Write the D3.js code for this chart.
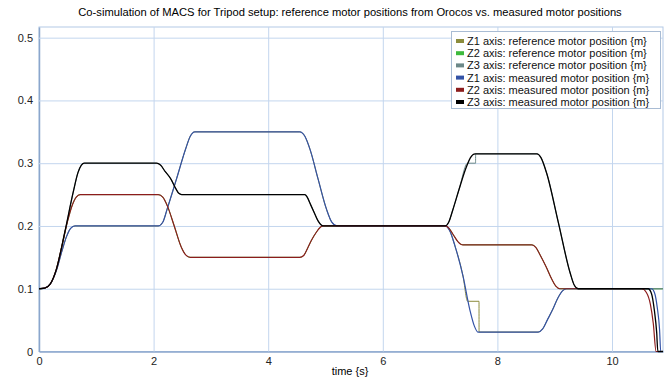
<!DOCTYPE html>
<html lang="en">
  <head>
    <meta charset="utf-8" />
    <title>Co-simulation of MACS for Tripod setup</title>
    <script src="https://d3js.org/d3.v7.min.js"></script>
    <style>
      body {
        margin: 0;
        background: #fff;
        font-family: "Liberation Sans", Arial, sans-serif;
      }

      .axis text {
        font-size: 11px;
        fill: #222;
      }

      .grid line {
        stroke: #c3d6ee;
        stroke-width: 1;
      }

      .axis path.domain {
        stroke: #8ba6cc;
        stroke-width: 1.5;
      }

      .legend text {
        font-size: 11px;
        fill: #111;
      }
    </style>
  </head>

  <body>
    <svg id="chart"></svg>

    <script>
      // tick labels
      const xTicks = [0, 2, 4, 6, 8, 10];
      const yTicks = [0, 0.1, 0.2, 0.3, 0.4, 0.5];

      const seriesNames = [
        "Z1 axis: reference motor position {m}",
        "Z2 axis: reference motor position {m}",
        "Z3 axis: reference motor position {m}",
        "Z1 axis: measured motor position {m}",
        "Z2 axis: measured motor position {m}",
        "Z3 axis: measured motor position {m}",
      ];

      // [time {s}, position {m}]
      const z1Meas = [
        [0, 0.1], [0.1, 0.101], [0.2, 0.108], [0.3, 0.128], [0.4, 0.16], [0.48, 0.183], [0.55, 0.196], [0.63, 0.2],
        [2.08, 0.2], [2.16, 0.206], [2.24, 0.228], [2.4, 0.275], [2.56, 0.323], [2.64, 0.343], [2.72, 0.35],
        [4.55, 0.35], [4.64, 0.343], [4.73, 0.322], [4.87, 0.275], [5.02, 0.226], [5.11, 0.206], [5.2, 0.2],
        [7.09, 0.2], [7.17, 0.192], [7.26, 0.168], [7.4, 0.12], [7.52, 0.066], [7.6, 0.04], [7.66, 0.031],
        [8.71, 0.031], [8.79, 0.036], [8.87, 0.05], [8.96, 0.066], [9.06, 0.086], [9.14, 0.097], [9.21, 0.1],
        [10.69, 0.1], [10.74, 0.094], [10.79, 0.07], [10.83, 0.035], [10.85, 0], [10.89, 0],
      ];

      const z2Meas = [
        [0, 0.1], [0.1, 0.101], [0.2, 0.108], [0.3, 0.13], [0.4, 0.168], [0.5, 0.208], [0.58, 0.233], [0.65, 0.246], [0.72, 0.25],
        [2.08, 0.25], [2.16, 0.246], [2.24, 0.232], [2.36, 0.2], [2.48, 0.167], [2.56, 0.154], [2.64, 0.15],
        [4.55, 0.15], [4.62, 0.153], [4.69, 0.165], [4.76, 0.178], [4.84, 0.19], [4.91, 0.198], [4.96, 0.2],
        [7.09, 0.2], [7.15, 0.197], [7.23, 0.186], [7.31, 0.175], [7.36, 0.171], [7.4, 0.17],
        [8.6, 0.17], [8.67, 0.166], [8.75, 0.153], [8.85, 0.135], [8.95, 0.115], [9.02, 0.104], [9.09, 0.1],
        [10.52, 0.1], [10.6, 0.094], [10.67, 0.075], [10.72, 0.045], [10.77, 0], [10.89, 0],
      ];

      const z3Meas = [
        [0, 0.1], [0.1, 0.101], [0.2, 0.108], [0.3, 0.13], [0.45, 0.19], [0.6, 0.255], [0.68, 0.285], [0.74, 0.297], [0.79, 0.3],
        [2.05, 0.3], [2.12, 0.297], [2.2, 0.287], [2.3, 0.275], [2.39, 0.259], [2.44, 0.252], [2.49, 0.25],
        [4.64, 0.25], [4.68, 0.246], [4.74, 0.234], [4.8, 0.222], [4.87, 0.208], [4.92, 0.202], [4.96, 0.2],
        [7.09, 0.2], [7.15, 0.206], [7.22, 0.225], [7.33, 0.258], [7.45, 0.292], [7.53, 0.309], [7.61, 0.315],
        [8.69, 0.315], [8.76, 0.309], [8.86, 0.284], [9.06, 0.207], [9.27, 0.125], [9.34, 0.106], [9.41, 0.1],
        [10.63, 0.1], [10.69, 0.092], [10.74, 0.065], [10.78, 0.03], [10.8, 0], [10.89, 0],
      ];

      // references follow the measured curves except where they hold a sample
      const z1Ref = [
        [0, 0.1], [0.1, 0.101], [0.2, 0.108], [0.3, 0.128], [0.4, 0.16], [0.48, 0.183], [0.55, 0.196], [0.63, 0.2],
        [2.08, 0.2], [2.16, 0.206], [2.24, 0.228], [2.4, 0.275], [2.56, 0.323], [2.64, 0.343], [2.72, 0.35],
        [4.55, 0.35], [4.64, 0.343], [4.73, 0.322], [4.87, 0.275], [5.02, 0.226], [5.11, 0.206], [5.2, 0.2],
        [7.09, 0.2], [7.17, 0.192], [7.26, 0.168], [7.4, 0.12], [7.48, 0.08], [7.679, 0.08], [7.68, 0.031],
        [8.71, 0.031], [8.79, 0.036], [8.87, 0.05], [8.96, 0.066], [9.06, 0.086], [9.14, 0.097], [9.21, 0.1],
        [10.89, 0.1],
      ];

      const z2Ref = [
        [0, 0.1], [0.1, 0.101], [0.2, 0.108], [0.3, 0.13], [0.4, 0.168], [0.5, 0.208], [0.58, 0.233], [0.65, 0.246], [0.72, 0.25],
        [2.08, 0.25], [2.16, 0.246], [2.24, 0.232], [2.36, 0.2], [2.48, 0.167], [2.56, 0.154], [2.64, 0.15],
        [4.55, 0.15], [4.62, 0.153], [4.69, 0.165], [4.76, 0.178], [4.84, 0.19], [4.91, 0.198], [4.96, 0.2],
        [7.09, 0.2], [7.15, 0.197], [7.23, 0.186], [7.31, 0.175], [7.36, 0.171], [7.4, 0.17],
        [8.6, 0.17], [8.67, 0.166], [8.75, 0.153], [8.85, 0.135], [8.95, 0.115], [9.02, 0.104], [9.09, 0.1],
        [10.89, 0.1],
      ];

      const z3Ref = [
        [0, 0.1], [0.1, 0.101], [0.2, 0.108], [0.3, 0.13], [0.45, 0.19], [0.6, 0.255], [0.68, 0.285], [0.74, 0.297], [0.79, 0.3],
        [2.05, 0.3], [2.12, 0.297], [2.2, 0.287], [2.3, 0.275], [2.39, 0.259], [2.44, 0.252], [2.49, 0.25],
        [4.64, 0.25], [4.68, 0.246], [4.74, 0.234], [4.8, 0.222], [4.87, 0.208], [4.92, 0.202], [4.96, 0.2],
        [7.09, 0.2], [7.15, 0.206], [7.22, 0.225], [7.33, 0.258], [7.48, 0.3], [7.619, 0.3], [7.62, 0.315],
        [8.69, 0.315], [8.76, 0.309], [8.86, 0.284], [9.06, 0.207], [9.27, 0.125], [9.34, 0.106], [9.41, 0.1],
        [10.89, 0.1],
      ];

      const allSeries = [z1Ref, z2Ref, z3Ref, z1Meas, z2Meas, z3Meas];
      const colors = ["#8c8c3c", "#3dba3d", "#6c8888", "#3352a6", "#8c1c1c", "#000000"];
      const widths = [1, 1, 1, 1.2, 1.2, 1.3];

      const W = 670;
      const H = 378;
      const margin = { top: 27, right: 7, bottom: 26.5, left: 39 };
      const plotW = W - margin.left - margin.right;
      const plotH = H - margin.top - margin.bottom;

      const svg = d3.select("#chart").attr("width", W).attr("height", H);

      const xscale = d3.scaleLinear().domain([0, 10.89]).range([margin.left, W - margin.right]);
      const yscale = d3.scaleLinear().domain([0, 0.517]).range([H - margin.bottom, margin.top]);

      // plot frame
      svg
        .append("rect")
        .attr("x", margin.left)
        .attr("y", margin.top)
        .attr("width", plotW)
        .attr("height", plotH)
        .attr("fill", "#fff")
        .attr("stroke", "#b3c9e6")
        .attr("stroke-width", 1);

      // grid + axes
      const xaxis = d3.axisBottom(xscale).tickValues(xTicks).tickSize(-plotH).tickSizeOuter(0).tickPadding(6);
      svg
        .append("g")
        .attr("class", "x axis grid")
        .attr("transform", `translate(0,${H - margin.bottom})`)
        .call(xaxis);

      const yaxis = d3
        .axisLeft(yscale)
        .tickValues(yTicks)
        .tickSize(-plotW)
        .tickSizeOuter(0)
        .tickPadding(6)
        .tickFormat(d3.format("~g"));
      svg.append("g").attr("class", "y axis grid").attr("transform", `translate(${margin.left},0)`).call(yaxis);

      svg.selectAll(".grid .tick line").filter((d) => d === 0).remove();

      // title and axis label
      svg
        .append("text")
        .attr("x", 350)
        .attr("y", 16)
        .attr("text-anchor", "middle")
        .style("font-size", "11.2px")
        .text("Co-simulation of MACS for Tripod setup: reference motor positions from Orocos vs. measured motor positions");

      svg
        .append("text")
        .attr("x", 350)
        .attr("y", 375)
        .attr("text-anchor", "middle")
        .style("font-size", "11px")
        .text("time {s}");

      // lines
      const line = d3
        .line()
        .x((d) => xscale(d[0]))
        .y((d) => yscale(d[1]))
        .curve(d3.curveMonotoneX);

      svg
        .append("g")
        .selectAll("path")
        .data(allSeries)
        .join("path")
        .attr("d", line)
        .attr("fill", "none")
        .attr("stroke", (d, i) => colors[i])
        .attr("stroke-width", (d, i) => widths[i]);

      // legend
      const legend = svg.append("g").attr("class", "legend");
      legend
        .append("rect")
        .attr("x", 451.5)
        .attr("y", 31.5)
        .attr("width", 209)
        .attr("height", 77)
        .attr("fill", "#fff")
        .attr("stroke", "#a9bcd4");

      const item = legend
        .selectAll("g.item")
        .data(seriesNames)
        .join("g")
        .attr("class", "item")
        .attr("transform", (d, i) => `translate(456,${41 + i * 12.2})`);

      item
        .append("rect")
        .attr("x", 0)
        .attr("y", -2)
        .attr("width", 8)
        .attr("height", 4)
        .attr("fill", (d, i) => colors[i]);

      item
        .append("text")
        .attr("x", 11)
        .attr("y", 4)
        .text((d) => d);
    </script>
  </body>
</html>
